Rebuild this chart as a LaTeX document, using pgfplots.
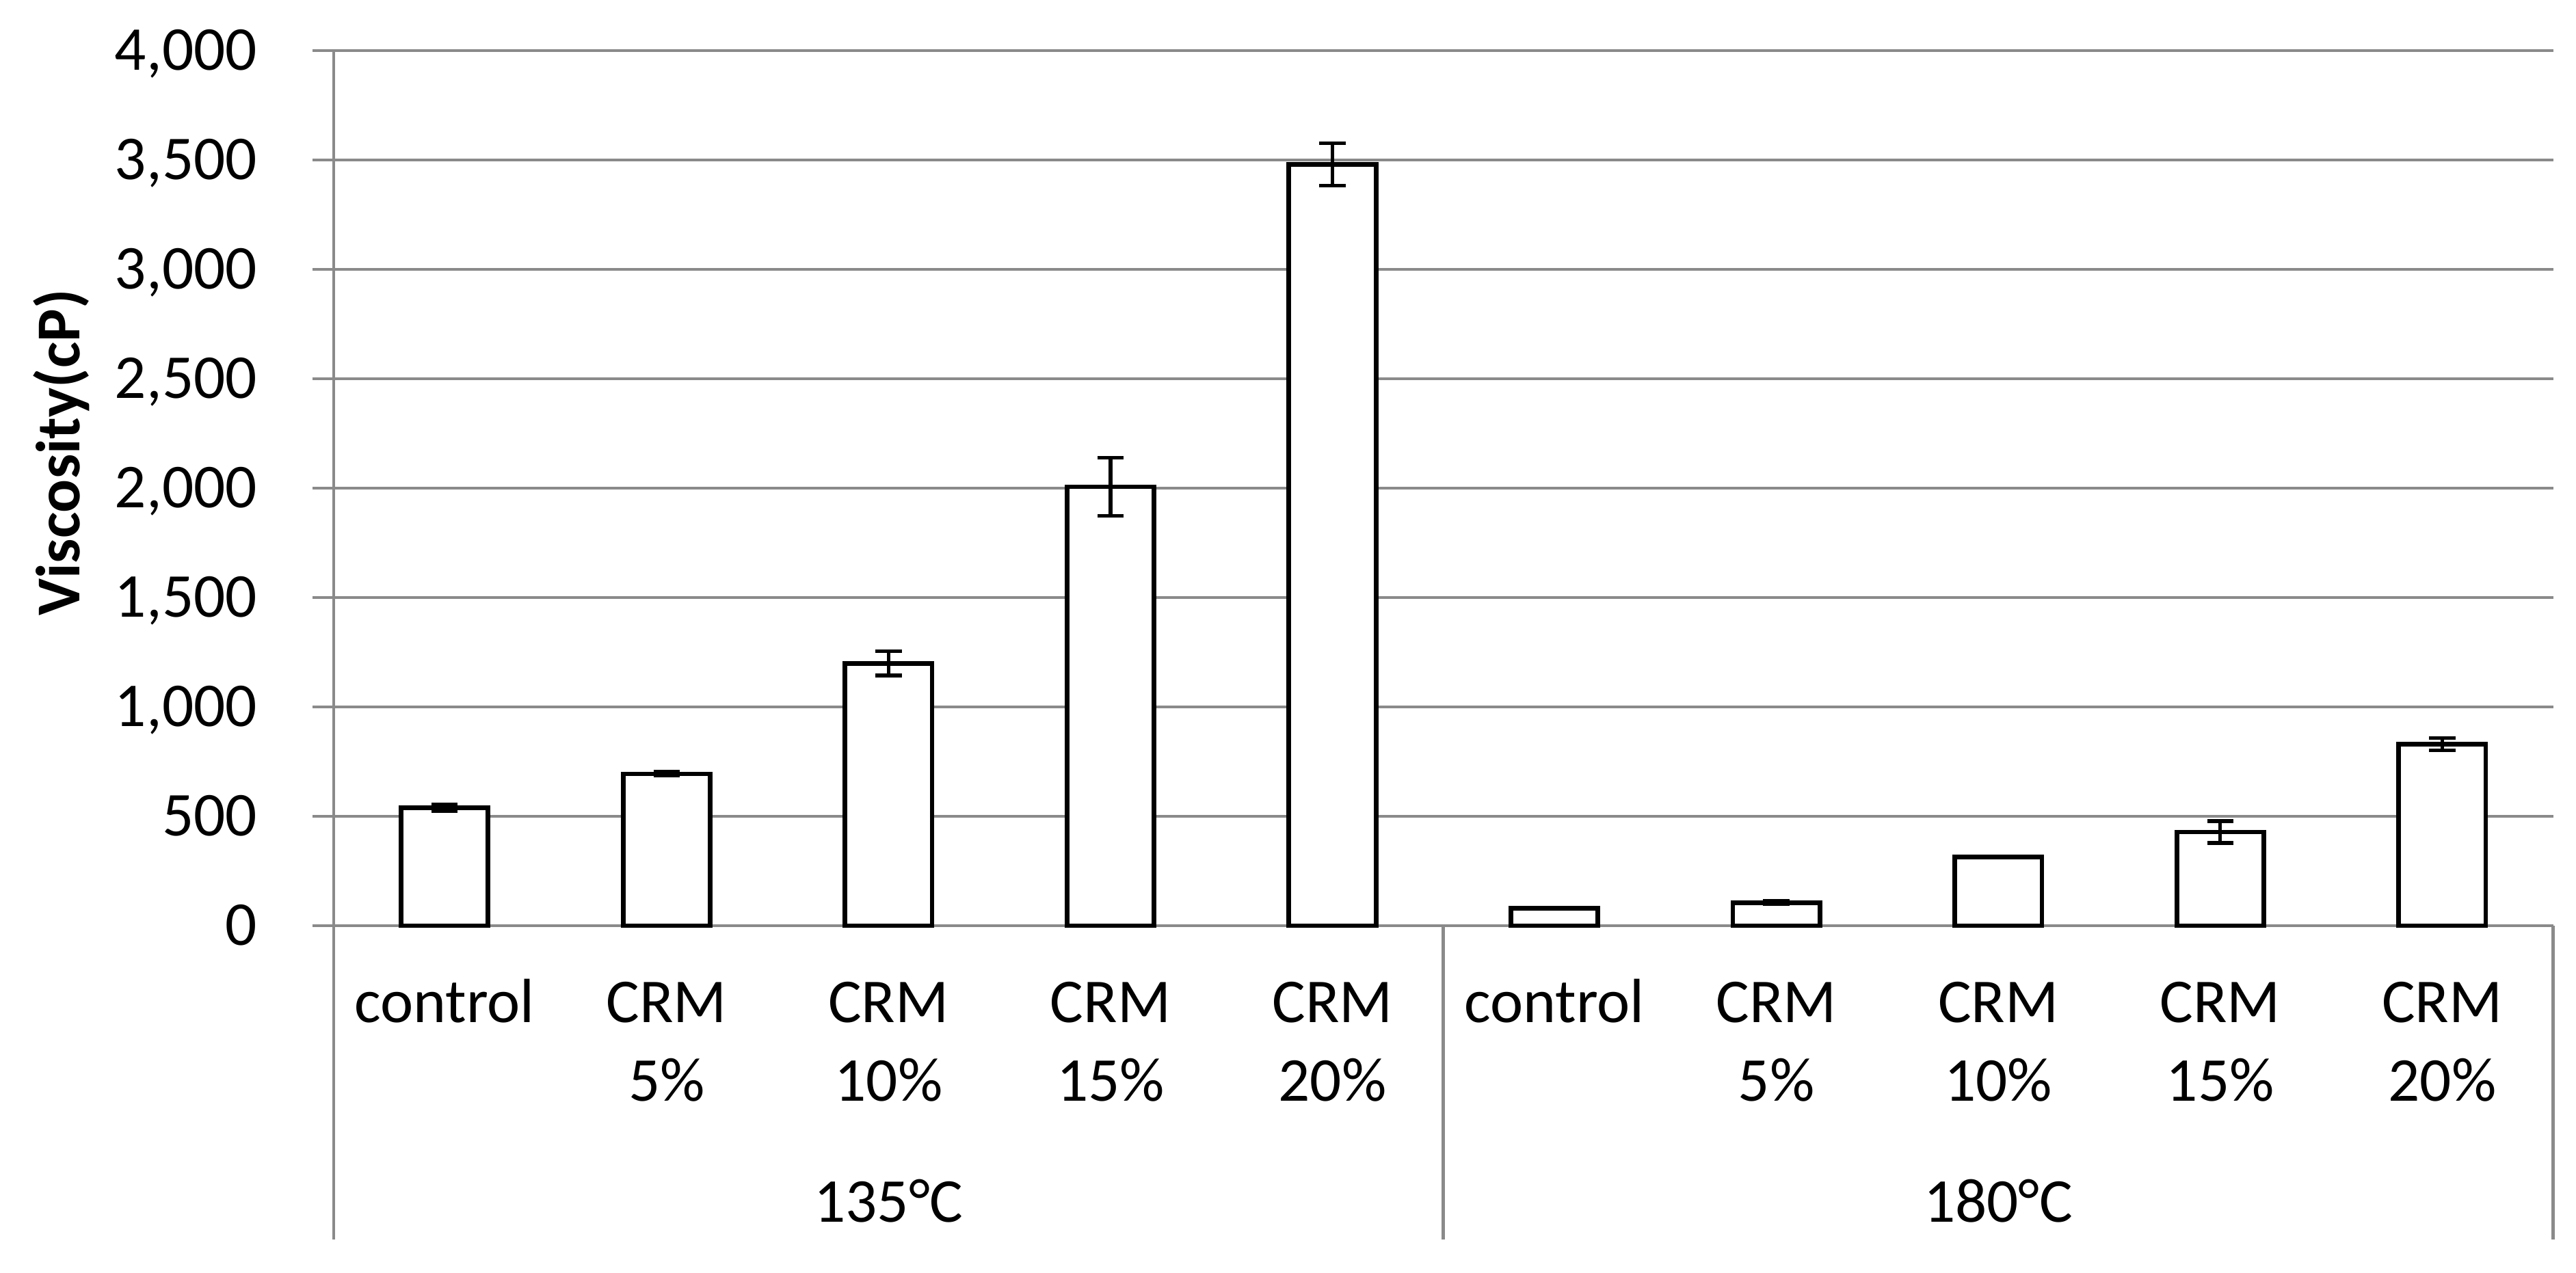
\documentclass[border=0pt]{standalone}
\usepackage{fontspec}
\setmainfont{Carlito}
\usepackage{pgfplots}
\pgfplotsset{compat=1.18}
\definecolor{gridgray}{RGB}{138,138,138}
\pgfplotstableread{
x y e
0 538 15
1 694 9
2 1199 55
3 2006 132
4 3480 97
5 81 0
6 106 7
7 315 2
8 428 50
9 829 28
}\datatable
\newcommand{\lblfont}{\fontsize{11.4}{14.3}\selectfont}
\begin{document}
\begin{tikzpicture}
\useasboundingbox (-60.93pt,-63.42pt) rectangle (409.47pt,169.08pt);
\begin{axis}[
  at={(0,0)}, anchor=south west,
  scale only axis, width=405.3pt, height=159.84pt,
  xmin=-0.5, xmax=9.5, ymin=0, ymax=4000,
  clip=false,
  axis lines*=left,
  axis line style={draw=gridgray, line width=0.6pt, -},
  ymajorgrids, grid style={draw=gridgray, line width=0.6pt},
  ytick={0,500,...,4000},
  xtick={0,...,9},
  xticklabels={{\strut control},{\strut CRM\\5\%},{\strut CRM\\10\%},{\strut CRM\\15\%},{\strut CRM\\20\%},{\strut control},{\strut CRM\\5\%},{\strut CRM\\10\%},{\strut CRM\\15\%},{\strut CRM\\20\%}},
  x tick style={draw=none},
  y tick style={draw=gridgray, line width=0.6pt},
  tick align=outside, major tick length=3.9pt,
  /pgf/number format/1000 sep={,},
  /pgf/number format/assume math mode=true,
  tick label style={font=\lblfont},
  yticklabel style={anchor=base east, inner sep=0pt, xshift=-9.9pt, yshift=-3.6pt},
  xticklabel style={anchor=north, align=center, inner sep=0pt, yshift=-3.6pt},
  ylabel={Viscosity(cP)},
  every axis y label/.style={at={(axis description cs:-0.1226,0.5405)}, rotate=90, anchor=center, font=\lblfont\bfseries},
]
\addplot[ybar, bar width=15.9pt, fill=white, draw=black, line width=0.85pt,
  error bars/.cd, y dir=both, y explicit,
  error bar style={line width=0.65pt, black},
  error mark options={rotate=90, mark size=2.4pt, line width=0.65pt, black}]
  table[x=x, y=y, y error=e] {\datatable};
\draw[gridgray, line width=0.6pt] (axis cs:-0.5,0) -- ++(0pt,-57.3pt);
\draw[gridgray, line width=0.6pt] (axis cs:4.5,0) -- ++(0pt,-57.3pt);
\draw[gridgray, line width=0.6pt] (axis cs:9.5,0) -- ++(0pt,-57.3pt);
\node[anchor=base, font=\lblfont, yshift=-54.1pt] at (axis cs:2,0) {135°C};
\node[anchor=base, font=\lblfont, yshift=-54.1pt] at (axis cs:7,0) {180°C};
\end{axis}
\end{tikzpicture}
\end{document}
